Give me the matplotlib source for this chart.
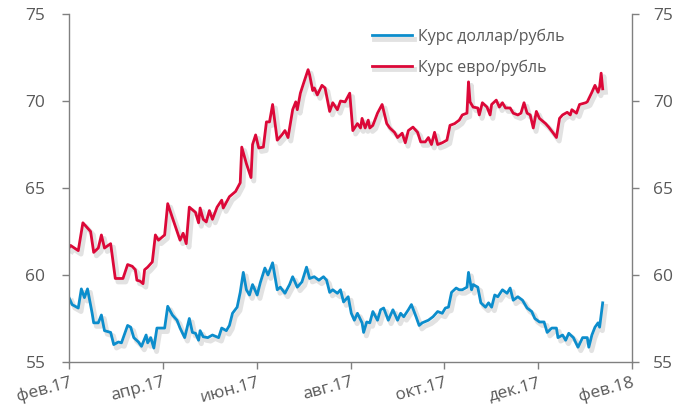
import numpy as np
import matplotlib
matplotlib.use('Agg')
import matplotlib.pyplot as plt
import matplotlib.patheffects as pe

# days since 1 Feb 2017
usd_days = [0, 2, 6, 8, 10, 12, 15, 16, 19, 21, 23, 27, 29, 32, 34, 38, 40, 42, 45, 47,
            50, 51, 53, 55, 57, 59, 62, 64, 67, 70, 72, 75, 78, 80, 82, 84, 85, 87, 90, 93,
            97, 99, 102, 104, 106, 109, 111, 113, 115, 117, 119, 122, 124, 127, 129, 132, 135, 137, 140, 143,
            145, 148, 151, 154, 156, 159, 162, 165, 167, 169, 171, 174, 176, 178, 181, 183, 185, 187, 190, 191,
            193, 195, 197, 200, 202, 204, 207, 210, 213, 215, 217, 220, 222, 225, 227, 229, 233, 236, 239, 242,
            244, 246, 248, 251, 253, 255, 258, 259, 261, 262, 265, 267, 270, 272, 274, 276, 278, 281, 284, 286,
            288, 291, 294, 297, 300, 302, 305, 308, 310, 313, 316, 317, 320, 322, 324, 327, 330, 333, 336, 337,
            339, 341, 343, 344, 346]
usd = [58.7, 58.3, 58.1, 59.2, 58.7, 59.2, 57.8, 57.25, 57.25, 57.7, 56.8, 56.7, 56.0, 56.15, 56.1, 57.1, 57.0, 56.4, 56.15, 55.9,
       56.55, 56.1, 56.4, 55.8, 56.95, 56.95, 56.95, 58.2, 57.7, 57.4, 56.95, 56.4, 57.5, 56.7, 56.65, 56.25, 56.8, 56.45, 56.4, 56.55,
       56.4, 56.95, 56.8, 57.1, 57.8, 58.15, 59.0, 60.15, 59.15, 58.85, 59.45, 58.85, 59.55, 60.4, 60.0, 60.7, 59.15, 59.3, 58.95, 59.45,
       59.9, 59.3, 59.6, 60.45, 59.8, 59.9, 59.7, 59.9, 59.7, 59.0, 59.15, 58.95, 59.15, 58.45, 58.75, 57.8, 57.4, 57.8, 57.25, 56.7,
       57.3, 57.25, 57.9, 57.4, 58.0, 58.1, 57.4, 58.0, 57.4, 57.8, 57.6, 58.0, 58.3, 57.6, 57.1, 57.25, 57.4, 57.6, 57.9, 57.8,
       58.1, 58.15, 59.0, 59.25, 59.15, 59.15, 59.3, 60.15, 59.15, 59.45, 59.3, 58.4, 58.15, 58.4, 58.15, 58.85, 58.75, 59.15, 58.95, 59.25,
       58.55, 58.75, 58.55, 58.1, 57.9, 57.5, 57.3, 57.3, 56.7, 56.95, 56.95, 56.4, 56.55, 56.25, 56.65, 56.4, 55.85, 56.4, 56.4, 55.85,
       56.55, 57.0, 57.25, 57.0, 58.4]

eur_days = [0, 1, 6, 9, 12, 14, 16, 19, 21, 23, 27, 30, 33, 35, 38, 41, 43, 44, 46, 48,
            49, 51, 54, 56, 58, 62, 64, 67, 72, 74, 76, 78, 82, 84, 85, 87, 89, 91, 93, 96,
            99, 100, 104, 108, 111, 112, 115, 118, 119, 121, 123, 126, 128, 130, 132, 135, 138, 140, 142, 145,
            147, 148, 150, 152, 155, 156, 158, 159, 161, 164, 166, 169, 171, 174, 176, 179, 182, 184, 187, 189,
            190, 192, 194, 195, 197, 200, 203, 206, 208, 211, 213, 216, 218, 220, 223, 226, 228, 231, 233, 235,
            237, 239, 242, 245, 247, 250, 253, 255, 258, 259, 260, 262, 265, 266, 268, 271, 273, 274, 277, 279,
            281, 283, 286, 288, 291, 293, 295, 297, 299, 301, 303, 305, 309, 311, 314, 316, 318, 320, 323, 325,
            326, 329, 331, 335, 336, 339, 341, 343, 344, 345, 346]
eur = [61.55, 61.7, 61.4, 63.0, 62.7, 62.5, 61.3, 61.55, 62.3, 61.55, 61.8, 59.8, 59.8, 59.8, 60.6, 60.5, 60.3, 59.7, 59.65, 59.5,
       60.3, 60.45, 60.75, 62.3, 62.0, 62.3, 64.1, 63.3, 62.0, 62.4, 61.8, 63.9, 63.6, 63.0, 63.85, 63.2, 63.05, 63.7, 63.2, 63.9,
       64.3, 63.85, 64.5, 64.8, 65.3, 67.35, 66.4, 65.6, 67.5, 68.05, 67.3, 67.35, 68.8, 68.8, 69.8, 67.75, 68.05, 68.3, 67.9, 69.5,
       69.95, 69.5, 70.45, 71.0, 71.8, 71.5, 70.6, 70.75, 70.35, 70.9, 70.75, 69.4, 69.9, 69.5, 70.0, 69.95, 70.45, 68.3, 68.7, 68.45,
       69.0, 68.45, 68.9, 68.45, 68.6, 69.3, 69.8, 68.7, 68.45, 68.2, 67.9, 68.15, 67.6, 68.3, 68.5, 68.2, 67.65, 67.65, 67.9, 67.5,
       68.2, 67.5, 67.6, 67.75, 68.6, 68.7, 68.9, 69.2, 69.3, 71.1, 69.95, 69.65, 69.6, 69.2, 69.9, 69.65, 69.2, 69.8, 70.05, 69.65,
       69.9, 69.6, 69.6, 69.3, 69.2, 69.3, 69.9, 69.3, 69.2, 68.45, 69.4, 69.0, 68.7, 68.5, 68.15, 67.9, 69.0, 69.2, 69.35, 69.2,
       69.5, 69.3, 69.8, 69.9, 69.95, 70.5, 70.9, 70.5, 70.8, 71.6, 70.7]

tick_labels = ['фев.17', 'апр.17', 'июн.17', 'авг.17', 'окт.17', 'дек.17', 'фев.18']

plt.rcParams['font.family'] = ['Open Sans', 'DejaVu Sans']
grey = '#595959'
fig = plt.figure(figsize=(6.88, 4.12), dpi=100)
ax = fig.add_axes([0.1003, 0.1214, 0.8183, 0.8446])

shadow = [pe.SimpleLineShadow(offset=(2, -2.5), shadow_color='#a0a0a0', alpha=0.3, linewidth=3.5), pe.Normal()]
ax.plot(usd_days, usd, color='#0C8DCC', lw=2, label='Курс доллар/рубль', path_effects=shadow)
ax.plot(eur_days, eur, color='#DC0838', lw=2, label='Курс евро/рубль', path_effects=shadow)

ax.set_xlim(0, 365)
ax.set_ylim(55, 75)
ax.set_yticks([55, 60, 65, 70, 75])
ax.set_xticks(np.linspace(0, 365, 7))
ax.set_xticklabels(tick_labels, rotation=15, ha='right', rotation_mode='anchor')

ax2 = ax.twinx()
ax2.set_ylim(55, 75)
ax2.set_yticks([55, 60, 65, 70, 75])

for a in (ax, ax2):
    a.spines['top'].set_visible(False)
    for s in ('left', 'right', 'bottom'):
        a.spines[s].set_color('#808080')
        a.spines[s].set_linewidth(1)
    a.tick_params(colors='#808080', labelcolor=grey, labelsize=12.5, length=5, width=1, direction='out')
ax.spines['right'].set_visible(False)
ax2.spines['left'].set_visible(False)
ax2.spines['bottom'].set_visible(False)
ax.tick_params(axis='y', pad=12)
ax2.tick_params(axis='y', pad=10)
ax.tick_params(axis='x', pad=4)

leg = ax.legend(loc='upper left', bbox_to_anchor=(0.512, 1.0), frameon=False, fontsize=11.5,
                handlelength=2.5, labelspacing=0.9, handletextpad=0.4)
for t in leg.get_texts():
    t.set_color(grey)

fig.savefig('out.png', dpi=100)
